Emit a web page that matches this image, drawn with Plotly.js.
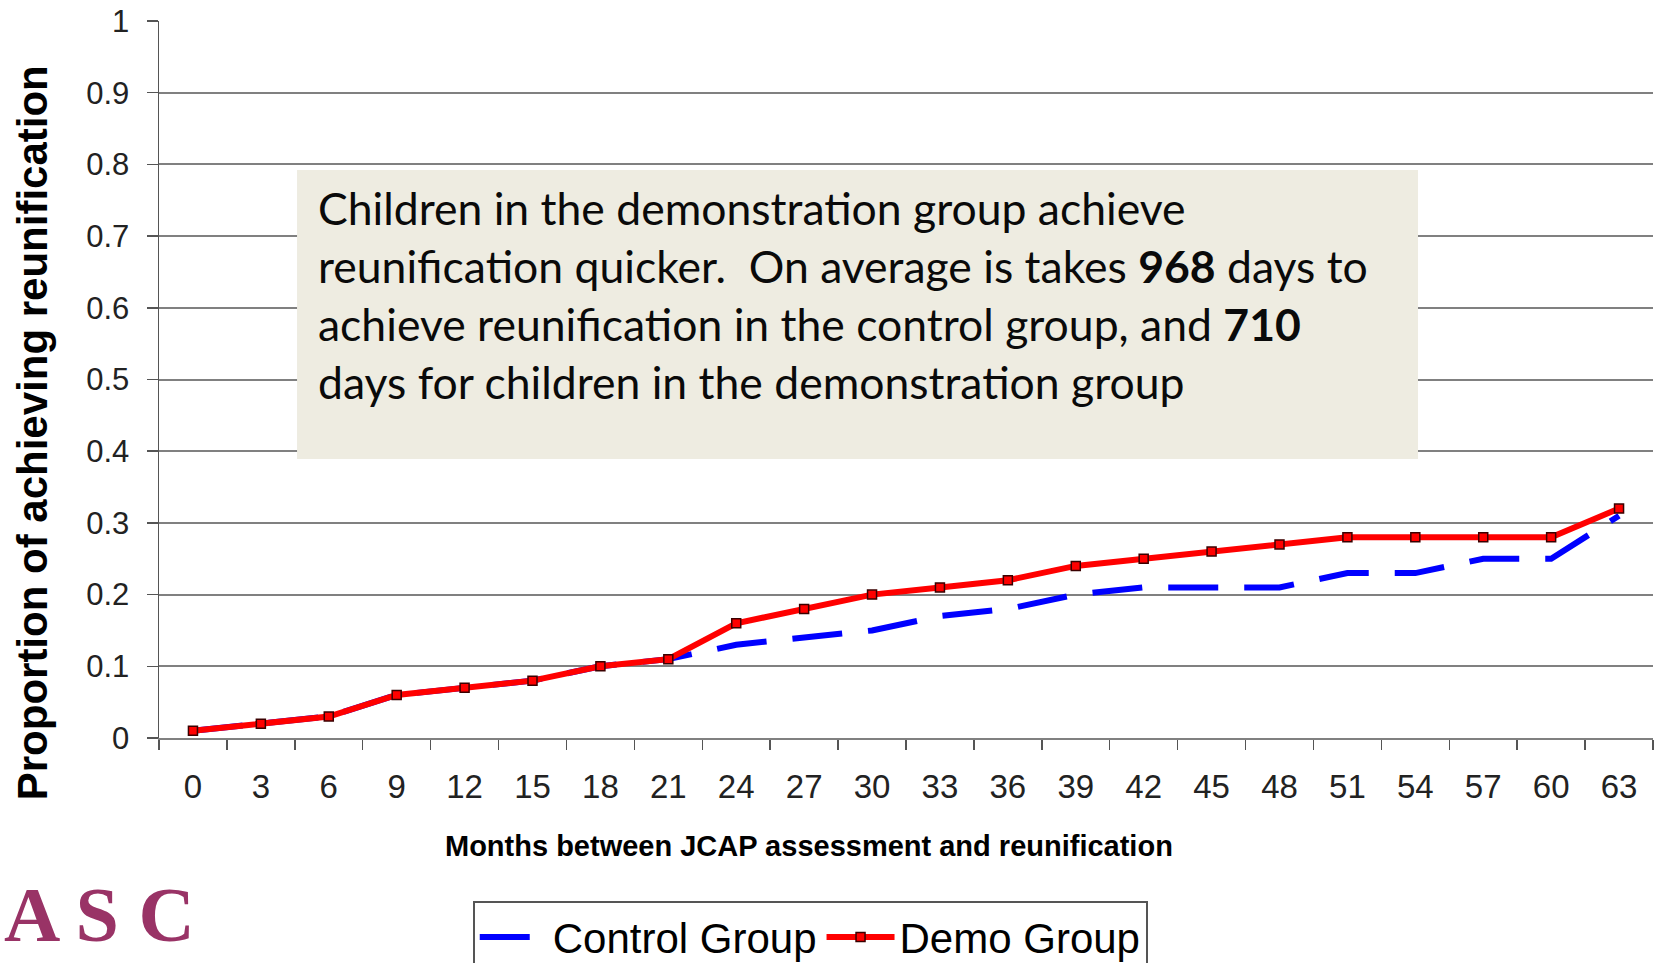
<!DOCTYPE html>
<html>
<head>
<meta charset="utf-8">
<script src="https://cdn.plot.ly/plotly-3.0.1.min.js"></script>
<style>html,body{margin:0;padding:0;background:#fff;}#chart{width:1665px;height:963px;}</style>
</head>
<body>
<div id="chart"></div>
<script>
// Months between JCAP assessment and reunification (category labels)
const months = [0, 3, 6, 9, 12, 15, 18, 21, 24, 27, 30, 33, 36, 39, 42, 45, 48, 51, 54, 57, 60, 63];
// Proportion achieving reunification
const controlGroup = [0.01, 0.02, 0.03, 0.06, 0.07, 0.08, 0.10, 0.11, 0.13, 0.14, 0.15, 0.17, 0.18, 0.20, 0.21, 0.21, 0.21, 0.23, 0.23, 0.25, 0.25, 0.31];
const demoGroup    = [0.01, 0.02, 0.03, 0.06, 0.07, 0.08, 0.10, 0.11, 0.16, 0.18, 0.20, 0.21, 0.22, 0.24, 0.25, 0.26, 0.27, 0.28, 0.28, 0.28, 0.28, 0.32];
const seriesNames = ["Control Group", "Demo Group"];
const yTicks = [0, 0.1, 0.2, 0.3, 0.4, 0.5, 0.6, 0.7, 0.8, 0.9, 1];

const xLabels = months.map(String);

const traces = [
  {
    x: xLabels, y: controlGroup, name: seriesNames[0],
    type: "scatter", mode: "lines",
    line: {color: "#0000FF", width: 6, dash: "50px,26px"}
  },
  {
    x: xLabels, y: demoGroup, name: seriesNames[1],
    type: "scatter", mode: "lines+markers",
    line: {color: "#FF0000", width: 6},
    marker: {symbol: "square", size: 9, color: "#FF0000", line: {color: "#3a0000", width: 1.5}}
  }
];

const layout = {
  width: 1665, height: 963,
  paper_bgcolor: "#ffffff", plot_bgcolor: "#ffffff",
  margin: {l: 159, r: 12, t: 21, b: 225, autoexpand: false},
  font: {family: "Liberation Sans, Arial, sans-serif", color: "#222"},
  showlegend: true,
  legend: {
    orientation: "h", x: 0.21, xanchor: "left", y: -0.2275, yanchor: "top",
    bgcolor: "#ffffff", bordercolor: "#555", borderwidth: 2,
    font: {family: "Liberation Sans, Arial, sans-serif", size: 42, color: "#000"},
    itemwidth: 68
  },
  xaxis: {
    type: "category",
    range: [-0.5, months.length - 0.5],
    autorange: false,
    tickson: "boundaries",
    ticks: "outside", ticklen: 10, tickwidth: 1.5, tickcolor: "#555",
    showgrid: false, zeroline: false,
    showline: true, linecolor: "#808080", linewidth: 2,
    tickfont: {size: 33, color: "#222"},
    ticklabelstandoff: 18,
    fixedrange: true
  },
  yaxis: {
    range: [0, 1],
    autorange: false,
    tickvals: yTicks,
    ticktext: yTicks.map(String),
    ticks: "outside", ticklen: 11, tickwidth: 1.5, tickcolor: "#555",
    showgrid: true, gridcolor: "#808080", gridwidth: 2,
    zeroline: false,
    showline: true, linecolor: "#555", linewidth: 1.5,
    tickfont: {size: 31, color: "#222"},
    ticklabelstandoff: 11,
    fixedrange: true
  },
  shapes: [
    {type: "rect", xref: "paper", yref: "paper", x0: 0.0924, x1: 0.8427, y0: 0.3891, y1: 0.7922,
     fillcolor: "#EEECE1", line: {width: 0}, layer: "above"}
  ],
  annotations: [
    {xref: "paper", yref: "paper", x: 0.1051, y: 0.618, xanchor: "left", yanchor: "middle", align: "left",
     showarrow: false,
     text: "Children in the demonstration group achieve<br>reunification quicker.  On average is takes <b>968</b> days to<br>achieve reunification in the control group, and <b>710</b><br>days for children in the demonstration group",
     font: {family: "Lato, sans-serif", size: 44.5, color: "#0a0a0a"}},
    {xref: "paper", yref: "paper", x: -0.085, y: 0.425, xanchor: "center", yanchor: "middle",
     textangle: -90, showarrow: false,
     text: "<b>Proportion of achieving reunification</b>",
     font: {family: "Liberation Sans, Arial, sans-serif", size: 42, color: "#000"}},
    {xref: "paper", yref: "paper", x: 0.435, y: -0.1506, xanchor: "center", yanchor: "middle",
     showarrow: false,
     text: "<b>Months between JCAP assessment and reunification</b>",
     font: {family: "Liberation Sans, Arial, sans-serif", size: 29, color: "#000"}},
    {xref: "paper", yref: "paper", x: -0.105, y: -0.31, xanchor: "left", yanchor: "bottom",
     showarrow: false,
     text: "<b>A S C</b>",
     font: {family: "Liberation Serif, Times New Roman, serif", size: 78, color: "#993366"}}
  ]
};

Plotly.newPlot("chart", traces, layout, {displayModeBar: false, staticPlot: true});
</script>
</body>
</html>
